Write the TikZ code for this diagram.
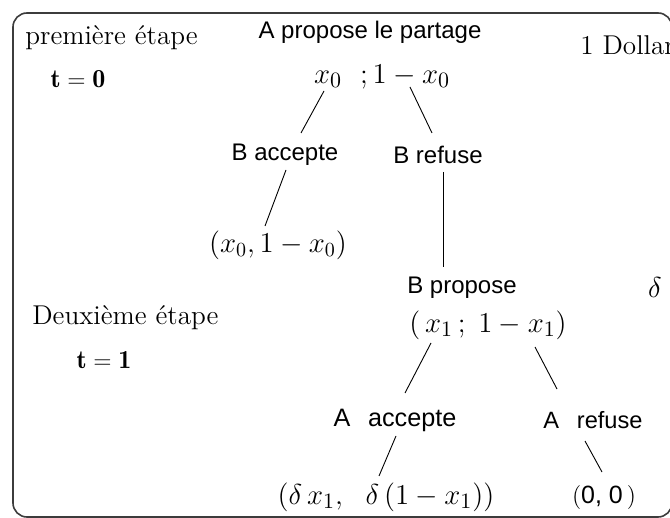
\documentclass[tikz,border=0pt]{standalone}
\usepackage{fontspec}
\setsansfont{Liberation Sans}
\usepackage{amsmath}
\usepackage{xcolor}
\definecolor{framegray}{RGB}{60,60,60}
\usepackage{tikz}
\usetikzlibrary{calc}
\tikzset{
  etape/.style={anchor=west,inner sep=0pt,font=\fontsize{13.6}{16}\selectfont},
  tval/.style={inner sep=0pt,font=\fontsize{13}{15}\selectfont},
  acte/.style={inner sep=0pt,font=\sffamily\fontsize{12}{14}\selectfont},
  gain/.style={inner sep=0pt,font=\fontsize{14}{16}\selectfont},
  br/.style={draw=black,line width=0.45pt},
}
\begin{document}
\begin{tikzpicture}[x=0.5pt,y=-0.5pt]
  \useasboundingbox (0,0) rectangle (670,518);
  \draw[framegray,line width=0.8pt,rounded corners=7pt] (13,13) rectangle (672,517);
  % etapes
  \node[etape] (e1) at (25,38) {première étape};
  \node[tval] (t0) at (78,79) {$\mathbf{t=0}$};
  \node[etape] (e2) at (32,318) {Deuxième étape};
  \node[tval] (t1) at (104,360) {$\mathbf{t=1}$};
  \node[etape] (dol) at (580,45) {1 Dollar};
  \node[gain] (dl) at (655,288) {$\delta$};
  % arbre
  \node[acte] (a0) at (370,32) {A propose le partage};
  \node[gain,font=\fontsize{15}{17}\selectfont] (p0) at (382,77) {$x_0\ \ ;1-x_0$};
  \node[acte] (ba) at (285,155) {B accepte};
  \node[acte] (bre) at (438,155) {B refuse};
  \node[gain] (g0) at (278,245) {$(x_0,1-x_0)$};
  \node[acte] (bp) at (462,288) {B propose};
  \node[gain,font=\fontsize{15}{17}\selectfont] (p1) at (488,325) {$(\,x_1\,;\;1-x_1)$};
  \node[acte,font=\sffamily\fontsize{12.6}{14}\selectfont] (aa) at (395,420) {A\hspace{0.7em}accepte};
  \node[acte,font=\sffamily\fontsize{11.8}{14}\selectfont] (ar) at (593,420) {A\hspace{0.75em}refuse};
  \node[gain,font=\fontsize{15}{17}\selectfont] (g1) at (386,497) {$(\delta\,x_1,\ \ \delta\,(1-x_1))$};
  \node[gain,font=\fontsize{12.5}{15}\selectfont] (g2) at (604,497) {$(\textsf{0, 0}\,)$};
  \draw[br] ([xshift=-29pt,yshift=-7pt]p0.center) -- ([xshift=8pt,yshift=11pt]ba.center);
  \draw[br] ([xshift=14pt,yshift=-5pt]p0.center) -- ([xshift=-3pt,yshift=11pt]bre.center);
  \draw[br] ([xshift=0.5pt,yshift=-7.5pt]ba.center) -- ([xshift=-6.5pt,yshift=9.5pt]g0.center);
  \draw[br] ([xshift=2.5pt,yshift=-8.5pt]bre.center) -- ([xshift=-9.5pt,yshift=10.5pt]bp.center);
  \draw[br] ([xshift=-28.5pt,yshift=-9pt]p1.center) -- ([xshift=5pt,yshift=13.5pt]aa.center);
  \draw[br] ([xshift=23.5pt,yshift=-11pt]p1.center) -- ([xshift=-18pt,yshift=15.5pt]ar.center);
  \draw[br] ([xshift=0.5pt,yshift=-8pt]aa.center) -- ([xshift=-3.5pt,yshift=10.5pt]g1.center);
  \draw[br] ([xshift=-4pt,yshift=-10.5pt]ar.center) -- ([xshift=-1pt,yshift=12.5pt]g2.center);
\end{tikzpicture}
\end{document}
